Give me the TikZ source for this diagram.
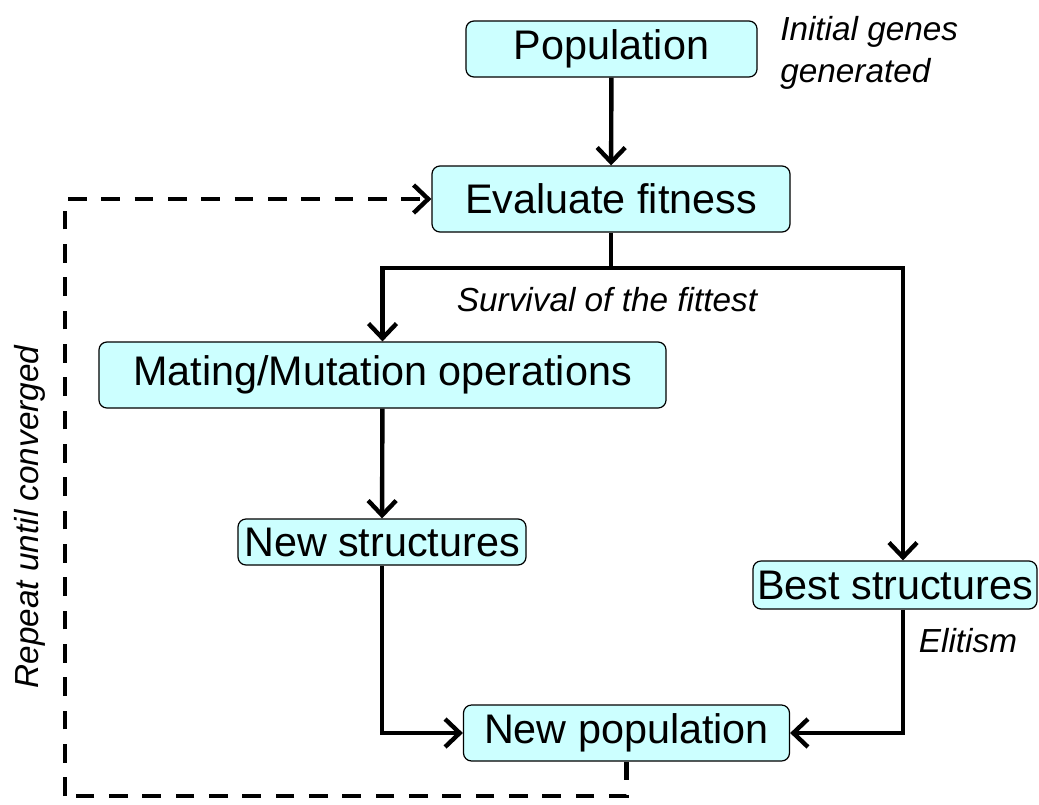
\documentclass[tikz,border=0pt]{standalone}
\usepackage{fontspec}
\setmainfont{Liberation Sans}
\usetikzlibrary{arrows.meta}
\definecolor{boxfill}{RGB}{204,255,255}
\tikzset{
  gabox/.style={draw=black, line width=0.9pt, fill=boxfill, rounded corners=6pt, inner sep=0pt,
    font=\fontsize{31}{37}\selectfont},
  barb/.style={-{Straight Barb[length=11pt,width=21pt,line width=3.3pt]}},
  flow/.style={line width=3.3pt, barb},
  flowline/.style={line width=3.3pt},
  loopline/.style={line width=3.3pt, dash pattern=on 14pt off 11pt},
  note/.style={font=\fontsize{25}{31.5}\selectfont\itshape, inner sep=0pt}
}
\begin{document}
\begin{tikzpicture}[x=0.75pt,y=-0.75pt]
\useasboundingbox (0,0) rectangle (1039,804);
\node[gabox, minimum width=218.3pt, minimum height=42pt] (pop) at (611.5,49) {Population};
\node[gabox, minimum width=268.5pt, minimum height=49.5pt] (eval) at (611,199) {Evaluate fitness};
\node[gabox, minimum width=425.3pt, minimum height=49.5pt] (mate) at (382.5,375) {Mating/Mutation operations};
\node[gabox, minimum width=216pt, minimum height=34.5pt] (news) at (382,542) {New structures};
\node[gabox, minimum width=213pt, minimum height=36pt] (best) at (895,585) {Best structures};
\node[gabox, minimum width=244.5pt, minimum height=42pt] (newpop) at (626.5,733) {New population};

\node[note, anchor=west, align=left] (init) at (780,53) {Initial genes\\generated};
\node[note] (surv) at (607,300) {Survival of the fittest};
\node[note] (elit) at (968,641) {Elitism};
\node[note, rotate=90] (rep) at (30,517) {Repeat until converged};

\coordinate (split) at (611,268);
\coordinate (dl) at (65,796);

\draw[flow] (pop) -- (eval);
\draw[flowline] (eval.south) -- (split);
\draw[flow] (split) -| (mate.north);
\draw[flow] (split) -| ([xshift=6pt]best.north);
\draw[flow] (mate) -- (news);
\draw[flow] (news.south) |- (newpop.west);
\draw[flow] ([xshift=6pt]best.south) |- (newpop.east);
\draw[loopline] (newpop.south) |- (dl);
\draw[loopline, barb] (dl) |- (eval.west);
\end{tikzpicture}
\end{document}
